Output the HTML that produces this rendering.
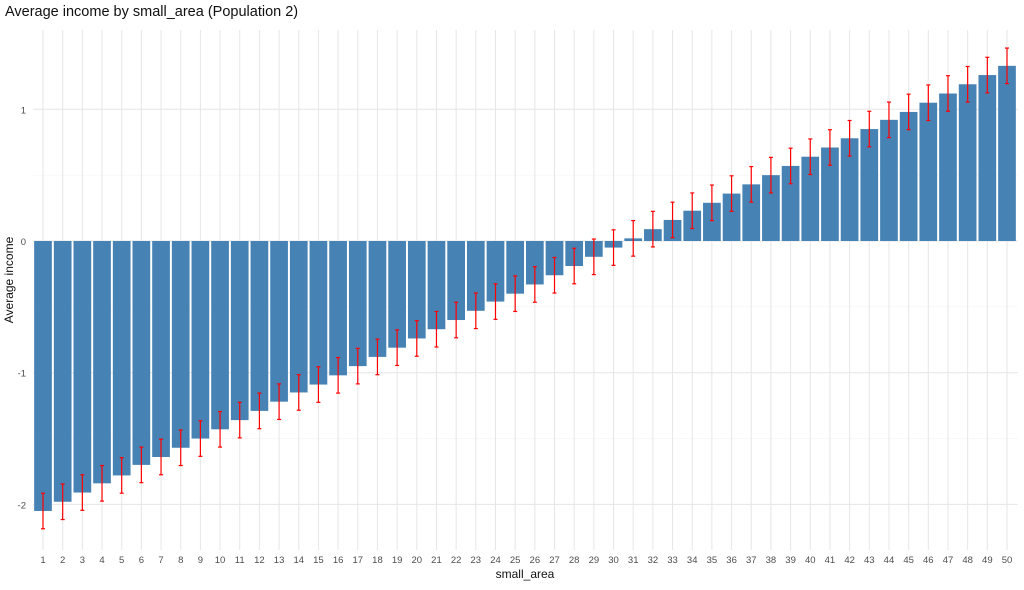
<!DOCTYPE html>
<html><head><meta charset="utf-8"><style>
body{margin:0;background:#fff;font-family:"Liberation Sans",Arial,sans-serif}
svg text{font-family:"Liberation Sans",Arial,sans-serif}
</style></head><body>
<svg id="chart" width="1024" height="585" viewBox="0 0 1024 585">
<text x="5" y="16" font-size="14.5" fill="#111">Average income by small_area (Population 2)</text>
<g id="grid"></g><g id="bars"></g><g id="errs"></g><g id="axes"></g>
<text x="525" y="578" font-size="12" text-anchor="middle" fill="#111">small_area</text>
<text transform="translate(13,280) rotate(-90)" font-size="12" text-anchor="middle" fill="#111">Average income</text>
</svg>
<script>
const categories=[1,2,3,4,5,6,7,8,9,10,11,12,13,14,15,16,17,18,19,20,21,22,23,24,25,26,27,28,29,30,31,32,33,34,35,36,37,38,39,40,41,42,43,44,45,46,47,48,49,50];
const values=[-2.05,-1.98,-1.91,-1.84,-1.78,-1.70,-1.64,-1.57,-1.50,-1.43,-1.36,-1.29,-1.22,-1.15,-1.09,-1.02,-0.95,-0.88,-0.81,-0.74,-0.67,-0.60,-0.53,-0.46,-0.40,-0.33,-0.26,-0.19,-0.12,-0.05,0.02,0.09,0.16,0.23,0.29,0.36,0.43,0.50,0.57,0.64,0.71,0.78,0.85,0.92,0.98,1.05,1.12,1.19,1.26,1.33];
const errors=[0.135,0.135,0.135,0.135,0.135,0.135,0.135,0.135,0.135,0.135,0.135,0.135,0.135,0.135,0.135,0.135,0.135,0.135,0.135,0.135,0.135,0.135,0.135,0.135,0.135,0.135,0.135,0.135,0.135,0.135,0.135,0.135,0.135,0.135,0.135,0.135,0.135,0.135,0.135,0.135,0.135,0.135,0.135,0.135,0.135,0.135,0.135,0.135,0.135,0.135];
const yTicks=[-2,-1,0,1];
const yMinor=[-1.5,-0.5,0.5];
const NS="http://www.w3.org/2000/svg";
const xPos=i=>43+i*(1007-43)/49;
const yPos=v=>241-v*131.7;
const pLeft=33,pRight=1018,pTop=30,pBottom=550;
function mk(tag,attrs,parent){const e=document.createElementNS(NS,tag);for(const k in attrs)e.setAttribute(k,attrs[k]);document.getElementById(parent).appendChild(e);return e;}
yMinor.forEach(v=>{const l=mk('line',{x1:pLeft,x2:pRight,y1:yPos(v),y2:yPos(v),stroke:'#f3f3f3','stroke-width':0.6},'grid');

});
yTicks.forEach(v=>{const l=mk('line',{x1:pLeft,x2:pRight,y1:yPos(v),y2:yPos(v),stroke:'#e6e6e6','stroke-width':1},'grid');


const t=mk('text',{x:26,y:yPos(v)+4,'font-size':9.5,'text-anchor':'end',fill:'#4d4d4d'},'axes');t.textContent=v;

});
categories.forEach((c,i)=>{const l=mk('line',{x1:xPos(i),x2:xPos(i),y1:pTop,y2:pBottom,stroke:'#e6e6e6','stroke-width':1},'grid');


const t=mk('text',{x:xPos(i),y:563,'font-size':9.5,'text-anchor':'middle',fill:'#4d4d4d'},'axes');t.textContent=c;


const v=values[i],w=17.7;
const r=mk('rect',{x:xPos(i)-w/2,y:Math.min(yPos(v),yPos(0)),width:w,height:Math.abs(yPos(v)-yPos(0)),fill:'#4682b4'},'bars');


const e=errors[i],g=mk('g',{stroke:'#ff0000','stroke-width':1.2},'errs');


const a=yPos(v+e),b=yPos(v-e);
[[xPos(i),xPos(i),a,b],[xPos(i)-2,xPos(i)+2,a,a],[xPos(i)-2,xPos(i)+2,b,b]].forEach(p=>{const s=document.createElementNS(NS,'line');s.setAttribute('x1',p[0]);s.setAttribute('x2',p[1]);s.setAttribute('y1',p[2]);s.setAttribute('y2',p[3]);g.appendChild(s);});
});
</script>
</body></html>
